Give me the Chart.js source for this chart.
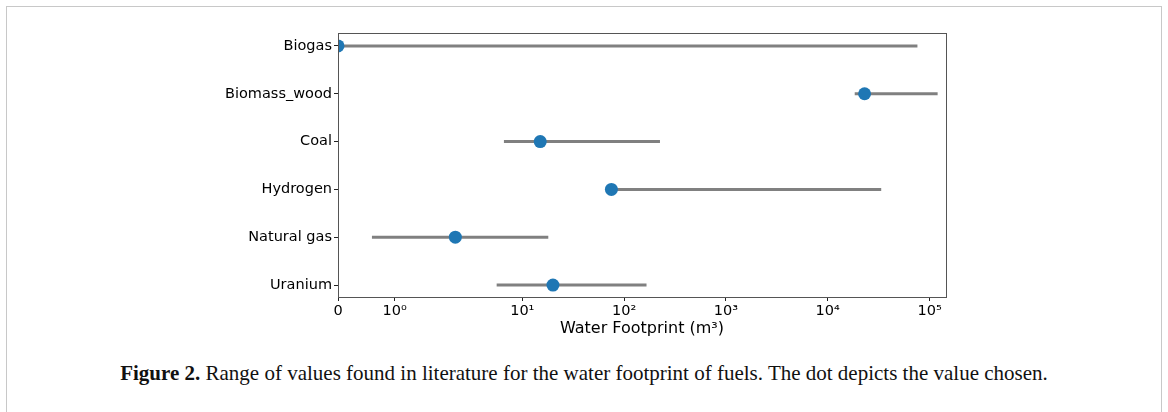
<!DOCTYPE html>
<html>
<head>
<meta charset="utf-8">
<script src="https://cdn.jsdelivr.net/npm/chart.js@4"></script>
<style>
  body { margin: 0; background: #fff; }
  #frame {
    position: absolute; left: 6px; top: 6px; width: 1156px; height: 420px;
    border: 1px solid #c8c8c8; box-sizing: border-box;
  }
  #wrap { position: absolute; left: 0; top: 0; width: 1168px; height: 338px; }
  #caption {
    position: absolute; left: 0; top: 361px; width: 1168px; text-align: center;
    font-family: "Liberation Serif", serif; font-size: 21px; color: #111;
  }
</style>
</head>
<body>
<div id="frame"></div>
<div id="wrap"><canvas id="chart" width="1168" height="338"></canvas></div>
<div id="caption"><b>Figure 2.</b> Range of values found in literature for the water footprint of fuels. The dot depicts the value chosen.</div>

<script>
// ---- data ----
const categories = ['Biogas', 'Biomass_wood', 'Coal', 'Hydrogen', 'Natural gas', 'Uranium'];
const rangeLow   = [0, 18400, 6.6, 75, 0.6, 5.6];
const rangeHigh  = [76000, 120000, 225, 33500, 18, 166];
const chosen     = [0, 23000, 15, 75, 2.2, 20];
const xTickValues = [0, 1, 10, 100, 1000, 10000, 100000];
const xTickLabels = ['0', '10⁰', '10¹', '10²', '10³', '10⁴', '10⁵'];

// ---- symlog scale (matplotlib style, base 10) ----
const LINTHRESH = 2;
const LINSCALE_ADJ = 1 / (1 - 1 / 10);

function symT(v) {
  const a = Math.abs(v);
  if (a <= LINTHRESH) return v * LINSCALE_ADJ / LINTHRESH;
  return Math.sign(v) * (LINSCALE_ADJ + Math.log10(a / LINTHRESH));
}
function symInv(t) {
  const a = Math.abs(t);
  if (a <= LINSCALE_ADJ) return t * LINTHRESH / LINSCALE_ADJ;
  return Math.sign(t) * LINTHRESH * Math.pow(10, a - LINSCALE_ADJ);
}

class SymlogScale extends Chart.Scale {
  static id = 'symlog';
  static defaults = {};

  determineDataLimits() {
    this.min = this.options.min;
    this.max = this.options.max;
  }
  buildTicks() {
    return xTickValues.map(v => ({ value: v }));
  }
  configure() {
    super.configure();
    this._t0 = symT(this.min);
    this._t1 = symT(this.max);
  }
  getLabelForValue(v) { return String(v); }
  getPixelForValue(v) {
    return this.getPixelForDecimal((symT(v) - this._t0) / (this._t1 - this._t0));
  }
  getValueForPixel(p) {
    return symInv(this._t0 + this.getDecimalForPixel(p) * (this._t1 - this._t0));
  }
}
Chart.register(SymlogScale);

// ---- frame around the plot area ----
const boxPlugin = {
  id: 'box',
  afterDatasetsDraw(chart) {
    const { ctx, chartArea: a } = chart;
    ctx.save();
    ctx.strokeStyle = '#555';
    ctx.lineWidth = 1;
    ctx.strokeRect(Math.round(a.left) + 0.5, Math.round(a.top) + 0.5,
                   Math.round(a.right - a.left), Math.round(a.bottom - a.top));
    ctx.restore();
  }
};

const tickFont = { family: '"DejaVu Sans", sans-serif', size: 14.5 };
const titleFont = { family: '"DejaVu Sans", sans-serif', size: 16 };

const rangeSets = categories.map((c, i) => ({
  type: 'line',
  label: c,
  data: [{ x: rangeLow[i], y: i }, { x: rangeHigh[i], y: i }],
  borderColor: '#808080',
  borderWidth: 3,
  borderCapStyle: 'butt',
  pointRadius: 0,
  order: 2
}));

new Chart(document.getElementById('chart'), {
  type: 'scatter',
  data: {
    datasets: [{
      type: 'scatter',
      label: 'chosen',
      data: chosen.map((v, i) => ({ x: v, y: i })),
      backgroundColor: '#1f77b4',
      borderColor: '#1f77b4',
      pointRadius: 6.5,
      borderWidth: 0,
      clip: 0,
      order: 1
    }, ...rangeSets]
  },
  options: {
    responsive: false,
    animation: false,
    events: [],
    layout: { padding: { top: 33, right: 222, left: 0, bottom: 0 } },
    plugins: { legend: { display: false }, tooltip: { enabled: false } },
    scales: {
      x: {
        type: 'symlog',
        min: 0,
        max: 145000,
        border: { display: false },
        grid: { drawOnChartArea: false, drawTicks: true, tickLength: 4, color: '#222' },
        ticks: {
          autoSkip: false, maxRotation: 0, padding: 2, color: '#000', font: tickFont,
          callback: (v, i) => xTickLabels[i]
        },
        title: { display: true, text: 'Water Footprint (m³)', color: '#000', font: titleFont, padding: { top: 0, bottom: 0 } },
        afterFit: s => { s.height = 41; }
      },
      y: {
        type: 'linear',
        min: -0.27,
        max: 5.25,
        reverse: true,
        border: { display: false },
        grid: { drawOnChartArea: false, drawTicks: true, tickLength: 4, color: '#222' },
        afterBuildTicks: s => { s.ticks = categories.map((c, i) => ({ value: i })); },
        ticks: {
          autoSkip: false, padding: 2, color: '#000', font: tickFont,
          callback: v => categories[v]
        },
        afterFit: s => { s.width = 338; }
      }
    }
  },
  plugins: [boxPlugin]
});
</script>
</body>
</html>
